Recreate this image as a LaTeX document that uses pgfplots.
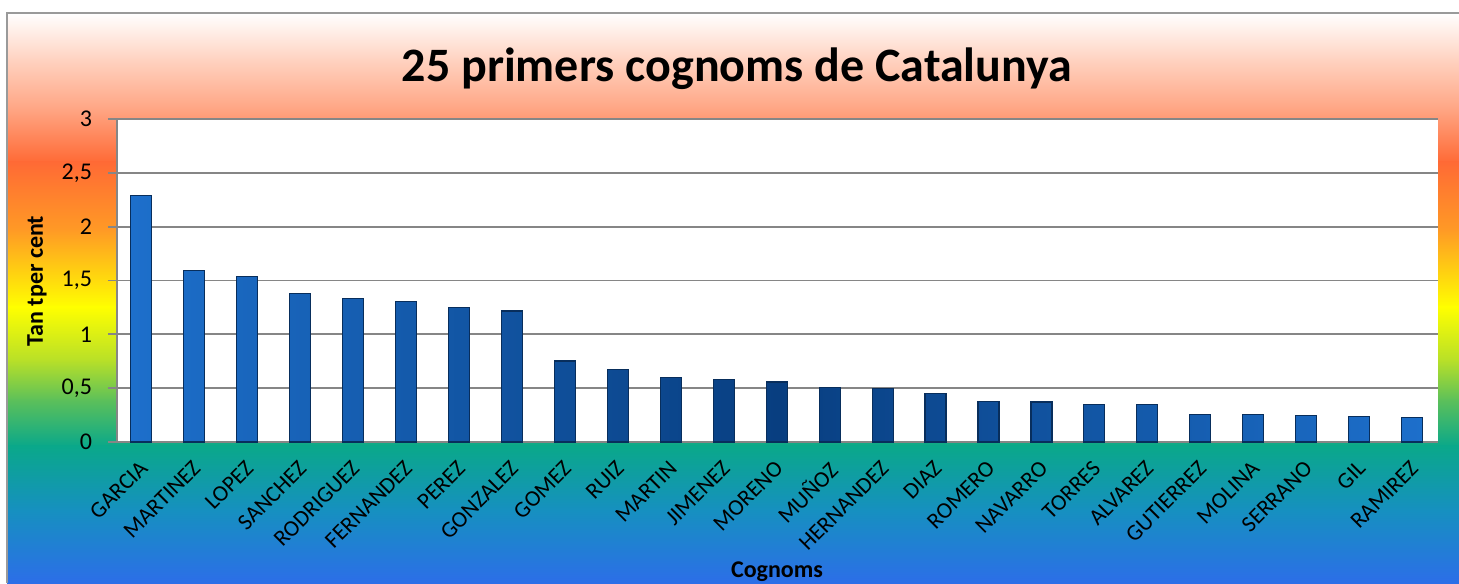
\documentclass[border=0pt]{standalone}
\usepackage{pgfplots}
\pgfplotsset{compat=1.18}
\usepackage{fontspec}
\setmainfont{Carlito}
\definecolor{g1}{HTML}{FFD2C0}
\definecolor{g2}{HTML}{FFA482}
\definecolor{g3}{HTML}{FF6A35}
\definecolor{g4}{HTML}{FF9A25}
\definecolor{g5}{HTML}{FFFF00}
\definecolor{g6}{HTML}{B8E028}
\definecolor{g7}{HTML}{5CC05A}
\definecolor{g8}{HTML}{0AA88A}
\definecolor{g9}{HTML}{1690C0}
\definecolor{g10}{HTML}{2C6EE8}
\definecolor{gridgray}{HTML}{868686}
\definecolor{framegray}{HTML}{9A9A9A}
\definecolor{barlight}{HTML}{1D6FCB}
\definecolor{barmid}{HTML}{083E80}
\definecolor{bardark}{HTML}{082E5C}

\pgfplotstableread{
x  v
0  2.29
1  1.59
2  1.535
3  1.38
4  1.33
5  1.306
6  1.247
7  1.216
8  0.752
9  0.675
10 0.60
11 0.579
12 0.557
13 0.504
14 0.498
15 0.452
16 0.376
17 0.372
18 0.35
19 0.35
20 0.257
21 0.255
22 0.245
23 0.236
24 0.23
}\datatable

\begin{document}
\begin{tikzpicture}[x=1pt,y=1pt]
\useasboundingbox (0,0) rectangle (729.5,291.5);
\fill[white] (0,0) rectangle (729.5,291.5);
\shade[top color=white, bottom color=g1] (3.5,261.2) rectangle (729.5,285);
\shade[top color=g1, bottom color=g2] (3.5,236.2) rectangle (729.5,261.5);
\shade[top color=g2, bottom color=g3] (3.5,210.2) rectangle (729.5,236.5);
\shade[top color=g3, bottom color=g4] (3.5,176.2) rectangle (729.5,210.5);
\shade[top color=g4, bottom color=g5] (3.5,137.7) rectangle (729.5,176.5);
\shade[top color=g5, bottom color=g6] (3.5,111.2) rectangle (729.5,138);
\shade[top color=g6, bottom color=g7] (3.5,91.2) rectangle (729.5,111.5);
\shade[top color=g7, bottom color=g8] (3.5,68.2) rectangle (729.5,91.5);
\shade[top color=g8, bottom color=g9] (3.5,36.2) rectangle (729.5,68.5);
\shade[top color=g9, bottom color=g10] (3.5,0) rectangle (729.5,36.5);
\draw[framegray, line width=0.7pt] (3.5,0) -- (3.5,285) -- (729.5,285);

\begin{axis}[
  at={(58.5pt,70.5pt)}, anchor=south west,
  scale only axis, width=660.5pt, height=161.5pt,
  xmin=-0.46, xmax=24.49, ymin=0, ymax=3,
  axis background/.style={fill=white},
  axis lines*=left,
  axis line style={gridgray, line width=0.9pt},
  ymajorgrids, grid style={gridgray, line width=0.9pt},
  tick align=outside, major tick length=4.5pt,
  ytick={0,0.5,1,1.5,2,2.5,3},
  yticklabels={0,{0,5},1,{1,5},2,{2,5},3},
  ytick style={gridgray, line width=0.9pt},
  yticklabel style={font=\fontsize{12}{14}\selectfont, anchor=east, xshift=-4.5pt},
  xtick={0,1,...,24},
  xtick style={draw=none},
  xticklabels={GARCIA,MARTINEZ,LOPEZ,SANCHEZ,RODRIGUEZ,FERNANDEZ,PEREZ,GONZALEZ,GOMEZ,RUIZ,MARTIN,JIMENEZ,MORENO,MUÑOZ,HERNANDEZ,DIAZ,ROMERO,NAVARRO,TORRES,ALVAREZ,GUTIERREZ,MOLINA,SERRANO,GIL,RAMIREZ},
  xticklabel style={font=\fontsize{11.4}{13}\selectfont, inner sep=0pt, xshift=-1.5pt, yshift=-4pt, rotate=45, anchor=north east},
  title={25 primers cognoms de Catalunya},
  title style={at={(axis description cs:0.4693,1.118)}, anchor=center, font=\fontsize{24}{28}\selectfont\bfseries},
  xlabel={Cognoms},
  xlabel style={at={(axis description cs:0.4996,-0.4195)}, anchor=base, font=\fontsize{12}{14}\selectfont\bfseries},
  ylabel={Tan tper cent},
  ylabel style={at={(axis description cs:-0.0606,0.498)}, anchor=center, font=\fontsize{12}{14}\selectfont\bfseries},
]
\addplot[ybar, bar width=10.5pt, draw=bardark, line width=0.6pt,
  left color=barlight, right color=barlight, middle color=barmid]
  table[x=x, y=v] {\datatable};
\end{axis}
\end{tikzpicture}
\end{document}
